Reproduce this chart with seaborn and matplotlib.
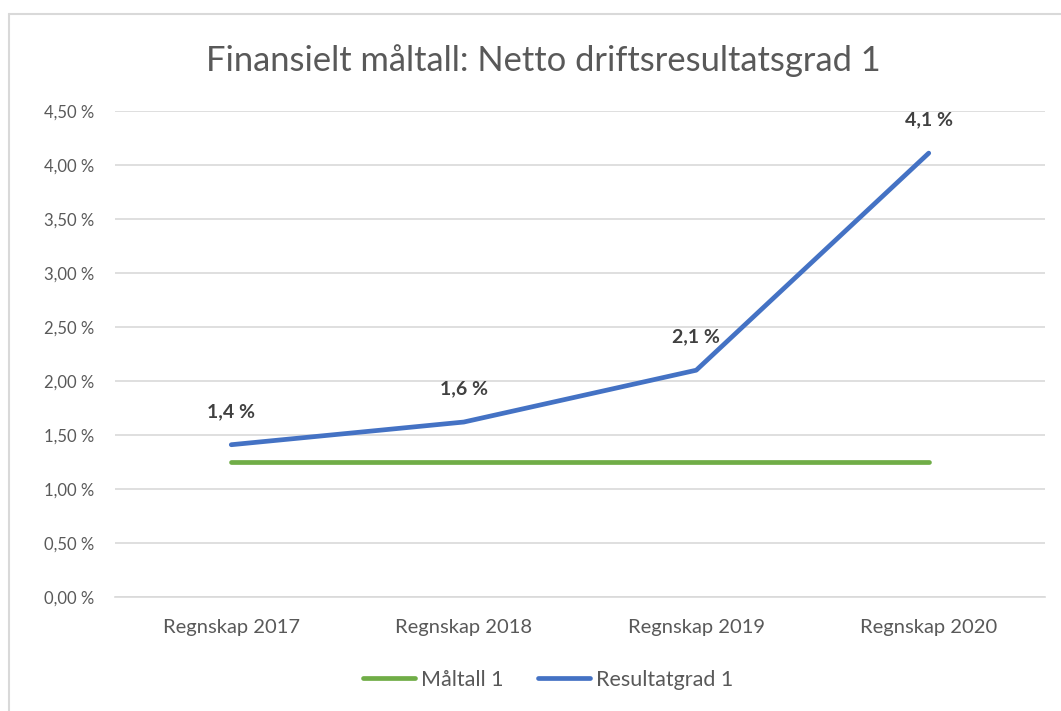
import numpy as np
import pandas as pd
import seaborn as sns
import matplotlib.pyplot as plt
import matplotlib.ticker as ticker
from matplotlib.lines import Line2D

# data
kategorier = ["Regnskap 2017", "Regnskap 2018", "Regnskap 2019", "Regnskap 2020"]
maltall = [1.25, 1.25, 1.25, 1.25]
resultatgrad = [1.41, 1.62, 2.10, 4.11]
etiketter = ["1,4 %", "1,6 %", "2,1 %", "4,1 %"]
y_ticks = [0.0, 0.5, 1.0, 1.5, 2.0, 2.5, 3.0, 3.5, 4.0, 4.5]

df = pd.DataFrame({
    "kategori": kategorier * 2,
    "verdi": maltall + resultatgrad,
    "serie": ["Måltall 1"] * 4 + ["Resultatgrad 1"] * 4,
})

sns.set_style("white")
plt.rcParams['font.family'] = ['Lato', 'DejaVu Sans']

W, H = 1061, 711
fig = plt.figure(figsize=(W/100, H/100), dpi=100)
ax = fig.add_axes([115/W, 1-597/H, 930/W, (597-111)/H])

sns.lineplot(data=df, x="kategori", y="verdi", hue="serie",
             palette={"Måltall 1": "#70AD47", "Resultatgrad 1": "#4472C4"},
             linewidth=3.4, ax=ax, legend=False, sort=False)

ax.set_xlim(-0.5, 3.5)
ax.set_ylim(0, 4.5)
ax.set_yticks(y_ticks)
ax.yaxis.set_major_formatter(ticker.FuncFormatter(lambda v, p: f"{v:.2f} %".replace(".", ",")))
ax.grid(axis="y", color="#d9d9d9", linewidth=1.2)
ax.set_axisbelow(True)
for s in ax.spines.values():
    s.set_visible(False)
ax.spines["bottom"].set_visible(True)
ax.spines["bottom"].set_color("#d9d9d9")
ax.spines["bottom"].set_linewidth(1.2)
ax.tick_params(axis="both", length=0, colors="#595959")
ax.tick_params(axis="y", pad=15, labelsize=12)
ax.tick_params(axis="x", pad=16, labelsize=14.5)
ax.set_xlabel("")
ax.set_ylabel("")

for i, (v, t) in enumerate(zip(resultatgrad, etiketter)):
    ax.annotate(t, (i, v), xytext=(0, 24), textcoords="offset points",
                ha="center", va="center", fontsize=14, fontweight="bold",
                color="#404040")

fig.text(543/W, 1-61/H, "Finansielt måltall: Netto driftsresultatsgrad 1",
         ha="center", va="center", fontsize=24.8, color="#595959")

handles = [Line2D([0], [0], color="#70AD47", lw=3.4),
           Line2D([0], [0], color="#4472C4", lw=3.4)]
fig.legend(handles, ["Måltall 1", "Resultatgrad 1"], loc="center",
           bbox_to_anchor=(548/W, 1-680/H), ncol=2, frameon=False,
           fontsize=15.5, handlelength=2.4, handletextpad=0.28, columnspacing=1.6,
           labelcolor="#595959")

# chart frame
fig.add_artist(Line2D([8.5/W, 8.5/W], [0, 1-13.5/H], color="#d9d9d9", lw=1.5, transform=fig.transFigure))
fig.add_artist(Line2D([8.5/W, 1], [1-13.5/H, 1-13.5/H], color="#d9d9d9", lw=1.5, transform=fig.transFigure))

fig.savefig("out.png", dpi=100)
